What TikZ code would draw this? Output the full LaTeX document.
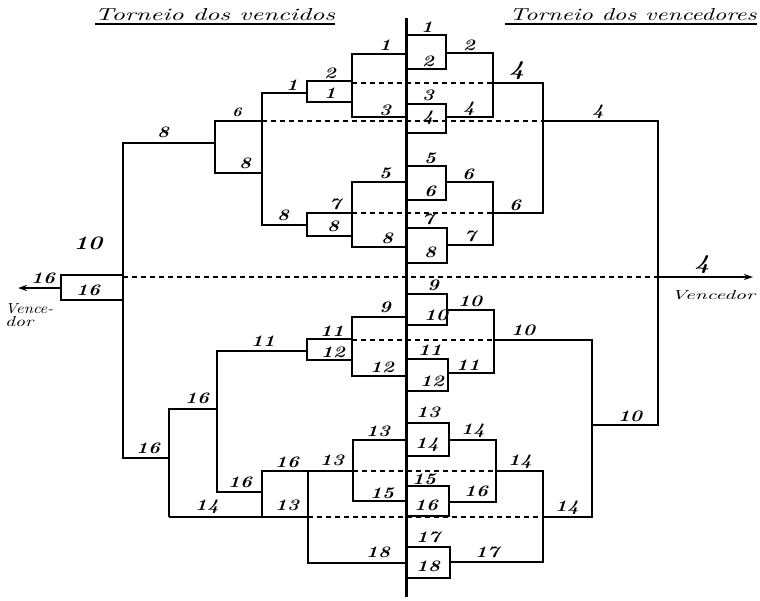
\documentclass[tikz,border=0pt]{standalone}
\usetikzlibrary{arrows.meta}
\newcommand\mylab[4][]{\node[lab,#1] (#2) at (#3) {\scalebox{1.25}[1]{#4}};}
\begin{document}
\begin{tikzpicture}[x=1pt,y=-1pt,
  lab/.style={inner sep=0pt, font=\fontsize{16}{16}\selectfont\bfseries\itshape},
  big/.style={font=\fontsize{21}{21}\selectfont\bfseries\itshape},
  ln/.style={line width=1.4pt, line join=miter},
  bx/.style={line width=1.7pt, line join=miter},
  dl/.style={line width=1.2pt, dash pattern=on 5pt off 4pt},
  ttl/.style={inner sep=0pt, anchor=base}]
\useasboundingbox (0,0) rectangle (760,600);
% titles
\node[ttl] (t1) at (215,20) {\resizebox{240pt}{12pt}{\itshape Torneio dos vencidos}};
\node[ttl] (t2) at (633,20) {\resizebox{247pt}{12pt}{\itshape Torneio dos vencedores}};
\draw[line width=1.3pt] (95,24) -- (335,24);
\draw[line width=1.3pt] (505,24) -- (757,24);
% central line
\draw[line width=3pt] (406,18) -- (406,597);
% ---------------- winners ----------------
\draw[bx] (406,35) rectangle (446,69);
\mylab{w1}{427,27}{1}\mylab{w2}{428,61}{2}
\draw[ln] (446,53) -- (493,53) -- (493,117) -- (446,117);
\mylab{w2b}{469,45}{2}
\draw[bx] (406,104) rectangle (446,133);
\mylab{w3}{428,95}{3}\mylab{w4}{428,118}{4}
\mylab{w4b}{469,109}{4}
\draw[ln] (493,83) -- (543,83) -- (543,213) -- (493,213);
\mylab[big]{w4c}{517,71}{4}
\draw[ln] (543,121) -- (658,121) -- (658,425) -- (592,425);
\mylab{w4d}{598,112}{4}
\draw[bx] (406,166) rectangle (446,200);
\mylab{w5}{430,158}{5}\mylab{w6}{430,191}{6}
\draw[ln] (446,182) -- (493,182) -- (493,245) -- (447,245);
\mylab{w6b}{468,174}{6}
\draw[bx] (406,228) rectangle (447,263);
\mylab{w7}{428,219}{7}\mylab{w8}{430,252}{8}
\mylab{w7b}{470,236}{7}
\mylab{w6c}{515,205}{6}
\draw[ln,-{Stealth[length=9pt,width=6pt]}] (658,277) -- (753,277);
\mylab[big]{w4e}{702,265}{4}
\node[inner sep=0pt] (venc1) at (713,295) {\resizebox{84pt}{9pt}{\itshape Vencedor}};
\draw[bx] (406,294) rectangle (447,325);
\mylab{w9}{433,285}{9}\mylab{w10}{436,315}{10}
\draw[ln] (447,310) -- (494,310) -- (494,373) -- (448,373);
\mylab{w10b}{470,301}{10}
\draw[bx] (406,359) rectangle (448,391);
\mylab{w11}{430,350}{11}\mylab{w12}{432,381}{12}
\mylab{w11b}{468,365}{11}
\draw[ln] (494,340) -- (592,340) -- (592,517) -- (543,517);
\mylab{w10c}{523,330}{10}
\mylab{w10d}{630,416}{10}
\draw[bx] (407,423) rectangle (449,456);
\mylab{w13}{428,412}{13}\mylab{w14}{427,445}{14}
\draw[ln] (449,440) -- (496,440) -- (496,502) -- (449,502);
\mylab{w14b}{473,431}{14}
\draw[bx] (407,486) rectangle (449,516);
\mylab{w15}{424,479}{15}\mylab{w16}{426,505}{16}
\mylab{w16b}{476,491}{16}
\draw[ln] (496,471) -- (543,471) -- (543,562) -- (450,562);
\mylab{w14c}{520,462}{14}
\mylab{w14d}{567,508}{14}
\draw[bx] (407,547) rectangle (450,578);
\mylab{w17}{428,537}{17}\mylab{w18}{428,566}{18}
\mylab{w17b}{487,552}{17}
% ---------------- losers ----------------
\draw[ln] (307,81) rectangle (352,102);
\draw[bx] (307,81) -- (352,81);
\mylab{v2}{330,73}{2}\mylab{v1}{330,93}{1}
\draw[ln] (406,54) -- (352,54) -- (352,117) -- (406,117);
\mylab{v1b}{385,45}{1}\mylab{v3}{385,110}{3}
\draw[ln] (307,93) -- (262,93) -- (262,225) -- (307,225);
\mylab{v1c}{292,85}{1}
\draw[ln] (262,121) -- (215,121) -- (215,173) -- (262,173);
\mylab[font=\fontsize{13}{13}\selectfont\bfseries\itshape]{v6}{237,112}{6}
\mylab{v8a}{245,163}{8}
\mylab{v8b}{283,215}{8}
\draw[ln] (307,213) rectangle (352,236);
\mylab{v7}{335,204}{7}\mylab{v8}{333,226}{8}
\draw[ln] (406,182) -- (352,182) -- (352,247) -- (406,247);
\mylab{v5}{385,173}{5}\mylab{v8c}{387,238}{8}
\draw[ln] (215,143) -- (123,143) -- (123,458) -- (169,458);
\mylab{v8d}{163,132}{8}
\draw[ln] (61,275) rectangle (123,300);
\mylab{v16}{88,290}{16}
\draw[ln,-{Stealth[length=9pt,width=6pt]}] (61,288) -- (18,288);
\mylab{v16b}{43,278}{16}
\node[inner sep=0pt, anchor=west] (venc2) at (5,309) {\resizebox{48pt}{10pt}{\itshape Vence-}};
\node[inner sep=0pt, anchor=west] (venc3) at (5,322) {\resizebox{28pt}{10pt}{\itshape dor}};
\mylab[font=\fontsize{19}{19}\selectfont\bfseries\itshape]{v10}{88,243}{10}
\mylab{v16c}{148,448}{16}
\draw[ln] (217,409) -- (169,409) -- (169,517);
\mylab{v16d}{197,398}{16}
\draw[ln] (307,351) -- (217,351) -- (217,492) -- (262,492);
\mylab{v11}{263,341}{11}
\draw[ln] (307,339) rectangle (352,360);
\mylab{v11b}{332,331}{11}\mylab{v12}{333,352}{12}
\draw[ln] (406,317) -- (352,317) -- (352,376) -- (406,376);
\mylab{v9}{385,307}{9}\mylab{v12b}{382,367}{12}
\mylab{v16e}{240,482}{16}
\draw[ln] (262,471) rectangle (308,517);
\mylab{v16f}{287,462}{16}\mylab{v13}{287,505}{13}
\draw[bx] (169,517) -- (308,517);
\mylab{v14}{207,507}{14}
\draw[ln] (353,471) -- (308,471) -- (308,563) -- (407,563);
\mylab{v13b}{332,460}{13}\mylab{v18}{378,552}{18}
\draw[ln] (407,440) -- (353,440) -- (353,501) -- (407,501);
\mylab{v13c}{378,431}{13}\mylab{v15}{382,493}{15}
% ---------------- dashed crossings ----------------
\draw[dl] (352,83) -- (493,83);
\draw[dl] (262,121) -- (543,121);
\draw[dl] (352,213) -- (493,213);
\draw[dl] (123,277) -- (658,277);
\draw[dl] (352,340) -- (494,340);
\draw[dl] (353,471) -- (496,471);
\draw[dl] (308,517) -- (543,517);
\end{tikzpicture}
\end{document}
